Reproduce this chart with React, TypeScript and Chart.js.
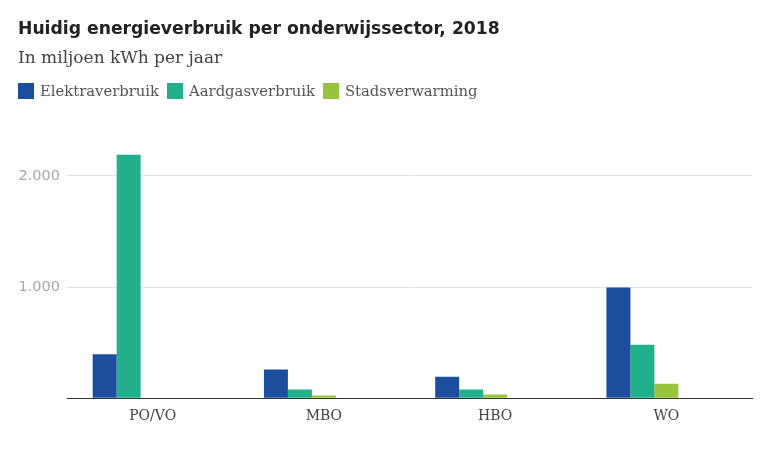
import React, { useEffect, useRef } from "react";
import { Chart, registerables } from "chart.js";

Chart.register(...registerables);

const categories = ["PO/VO", "MBO", "HBO", "WO"];
const elektraverbruik = [395, 258, 192, 995];
const aardgasverbruik = [2190, 78, 78, 480];
const stadsverwarming = [0, 24, 33, 129];
const seriesLabels = ["Elektraverbruik", "Aardgasverbruik", "Stadsverwarming"];
const seriesColors = ["#1b4f9e", "#21b08b", "#97c33d"];
const yTicks = [0, 1000, 2000];
const yMax = 2200;

const title = "Huidig energieverbruik per onderwijssector, 2018";
const subtitle = "In miljoen kWh per jaar";

function fmt(v: number): string {
  return String(v).replace(/\B(?=(\d{3})+(?!\d))/g, ".");
}

export default function App() {
  const canvasRef = useRef<HTMLCanvasElement | null>(null);

  useEffect(() => {
    if (!canvasRef.current) return;
    const values = [elektraverbruik, aardgasverbruik, stadsverwarming];
    const datasets: any[] = values.map((d, i) => ({
      label: seriesLabels[i],
      data: d,
      backgroundColor: seriesColors[i],
      borderWidth: 0,
      categoryPercentage: 0.7,
      barPercentage: 1.0,
    }));
    // two empty series that keep their (empty) slots in each group
    datasets.push(
      { label: "", data: [], backgroundColor: "transparent", categoryPercentage: 0.7, barPercentage: 1.0 },
      { label: "", data: [], backgroundColor: "transparent", categoryPercentage: 0.7, barPercentage: 1.0 }
    );

    const chart = new Chart(canvasRef.current, {
      type: "bar",
      data: { labels: categories, datasets },
      options: {
        animation: false,
        responsive: true,
        maintainAspectRatio: false,
        layout: { padding: { left: 18, right: 16, top: 398 - yMax * 0.1111, bottom: 22 } },
        plugins: {
          legend: { display: false },
          title: { display: false },
          tooltip: { enabled: false },
        },
        scales: {
          x: {
            grid: { display: false, drawTicks: false },
            border: { display: true, color: "#333333", width: 1 },
            ticks: {
              color: "#444444",
              padding: 10,
              font: { family: "DejaVu Serif", size: 14 },
            },
          },
          y: {
            min: 0,
            max: yMax,
            afterBuildTicks: (scale: any) => {
              scale.ticks = yTicks.map((v) => ({ value: v }));
            },
            afterFit: (scale: any) => {
              scale.width = 49;
            },
            grid: {
              drawTicks: false,
              color: (ctx: any) => (ctx.tick && ctx.tick.value === 0 ? "rgba(0,0,0,0)" : "#e3e3e3"),
              lineWidth: 1,
            },
            border: { display: false },
            ticks: {
              color: "#a8a8a8",
              padding: 7,
              font: { family: "DejaVu Sans", size: 14.5 },
              callback: (v: any) => (Number(v) === 0 ? "" : fmt(Number(v))),
            },
          },
        },
      },
    });
    return () => chart.destroy();
  }, []);

  return (
    <div style={{ position: "fixed", left: 0, top: 0, width: 768, height: 457, background: "#ffffff" }}>
      <canvas ref={canvasRef} style={{ position: "absolute", left: 0, top: 0, width: 768, height: 457 }} />
      <div
        style={{
          position: "absolute",
          left: 18,
          top: 20,
          fontFamily: "DejaVu Sans",
          fontWeight: 700,
          fontSize: 17.2,
          lineHeight: "17px",
          color: "#222222",
          whiteSpace: "nowrap",
        }}
      >
        {title}
      </div>
      <div
        style={{
          position: "absolute",
          left: 18,
          top: 49,
          fontFamily: "DejaVu Serif",
          fontSize: 17,
          lineHeight: "17px",
          color: "#444444",
          whiteSpace: "nowrap",
        }}
      >
        {subtitle}
      </div>
      <div
        style={{
          position: "absolute",
          left: 18,
          top: 83,
          display: "flex",
          alignItems: "center",
          height: 16,
        }}
      >
        {seriesLabels.map((l, i) => (
          <div key={l} style={{ display: "flex", alignItems: "center", marginRight: 8 }}>
            <span style={{ display: "inline-block", width: 16, height: 16, background: seriesColors[i], marginRight: 6 }} />
            <span
              style={{
                fontFamily: "DejaVu Serif",
                fontSize: 14.8,
                lineHeight: "16px",
                color: "#555555",
                whiteSpace: "nowrap",
              }}
            >
              {l}
            </span>
          </div>
        ))}
      </div>
    </div>
  );
}
